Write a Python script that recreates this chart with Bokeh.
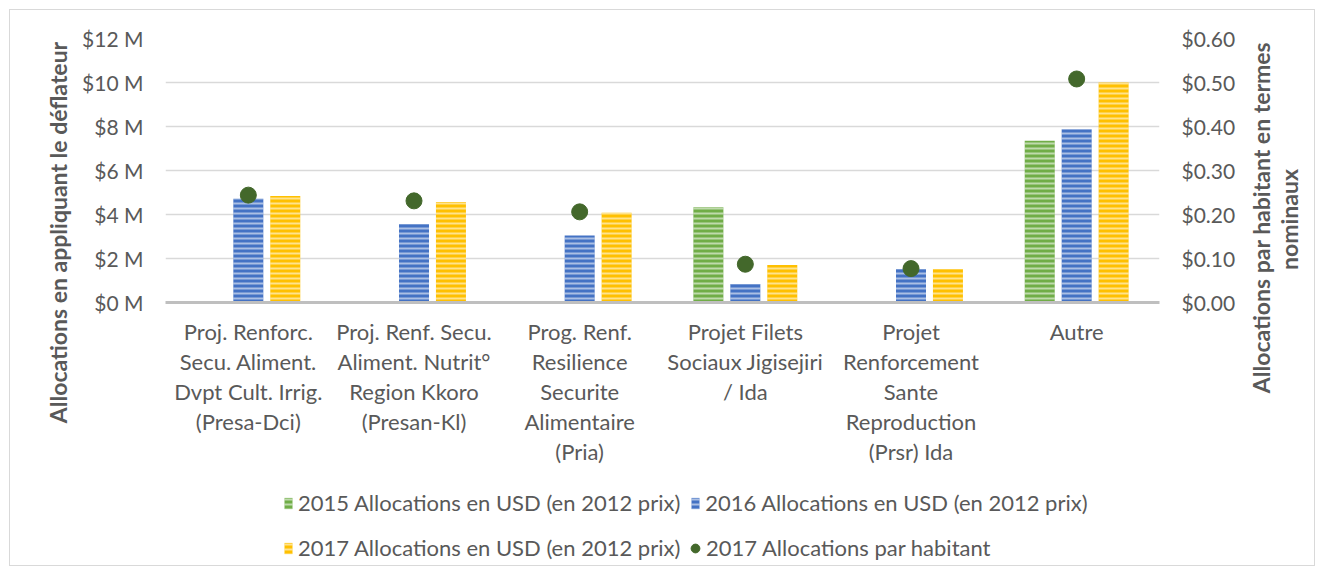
from math import pi
from bokeh.plotting import figure
from bokeh.layouts import row, column
from bokeh.models import (Range1d, LinearAxis, FixedTicker, PrintfTickFormatter,
                          ColumnDataSource, Legend, LegendItem, Label)
from bokeh.transform import dodge
from bokeh.embed import file_html
from bokeh.resources import INLINE

# ---------------- data ----------------
categories = [
    "Proj. Renforc.\nSecu. Aliment.\nDvpt Cult. Irrig.\n(Presa-Dci)",
    "Proj. Renf. Secu.\nAliment. Nutrit°\nRegion Kkoro\n(Presan-Kl)",
    "Prog. Renf.\nResilience\nSecurite\nAlimentaire\n(Pria)",
    "Projet Filets\nSociaux Jigisejiri\n/ Ida",
    "Projet\nRenforcement\nSante\nReproduction\n(Prsr) Ida",
    "Autre",
]
alloc_2015 = [0, 0, 0, 4.33, 0, 7.35]          # millions USD (2012 prices)
alloc_2016 = [4.72, 3.57, 3.05, 0.84, 1.52, 7.87]
alloc_2017 = [4.84, 4.57, 4.08, 1.70, 1.52, 10.0]
per_capita_2017 = [0.244, 0.231, 0.206, 0.087, 0.077, 0.508]  # USD per inhabitant

left_ticks = [0, 2, 4, 6, 8, 10, 12]
right_ticks = [0.0, 0.1, 0.2, 0.3, 0.4, 0.5, 0.6]

series_names = [
    "2015 Allocations en USD (en 2012 prix)",
    "2016 Allocations en USD (en 2012 prix)",
    "2017 Allocations en USD (en 2012 prix)",
    "2017 Allocations par habitant",
]
left_title = "Allocations en appliquant le déflateur"
right_title_lines = ["Allocations par habitant en termes", "nominaux"]

# ---------------- style ----------------
GREEN, BLUE, YELLOW, DOT = "#70AD47", "#4472C4", "#FFC000", "#43682B"
TXT = "#595959"
FONT = "Lato"
FS_TICK = "21px"
FS = "22px"
FS_TITLE = "23px"
hatch = dict(hatch_pattern="horizontal_line", hatch_color="white", hatch_alpha=0.55,
             hatch_scale=5, hatch_weight=2, line_color=None)

TOP_H = 475      # height of the chart row
LEG_H = 100      # height of the legend strip
LT_W, RT_W = 75, 85
MAIN_W = 1324 - LT_W - RT_W


def transparent(f):
    f.border_fill_color = None
    f.background_fill_color = None
    f.outline_line_color = None


def blank_fig(w, h):
    """A figure whose frame is the whole canvas, ranges in pixels (y downwards)."""
    f = figure(width=w, height=h, x_range=Range1d(0, w), y_range=Range1d(h, 0),
               output_backend="svg", toolbar_location=None,
               x_axis_location=None, y_axis_location=None, min_border=0)
    transparent(f)
    f.xgrid.visible = False
    f.ygrid.visible = False
    try:
        f.frame_align = False
    except Exception:
        pass
    return f


# ---------------- main chart ----------------
n = len(categories)
xpos = [i + 0.5 for i in range(n)]           # category slot centres

p = figure(x_range=Range1d(0, n), y_range=Range1d(0, 12),
           width=MAIN_W, height=TOP_H, output_backend="svg", toolbar_location=None,
           min_border_left=90, min_border_right=80, min_border_top=38, min_border_bottom=173)
p.extra_y_ranges = {"pc": Range1d(0, 0.6)}
transparent(p)

src = ColumnDataSource(dict(x=xpos, a15=alloc_2015, a16=alloc_2016,
                            a17=alloc_2017, pc=per_capita_2017))
bw = 0.181
off = 0.223
p.vbar(x=dodge("x", -off), top="a15", width=bw, source=src, fill_color=GREEN, **hatch)
p.vbar(x="x", top="a16", width=bw, source=src, fill_color=BLUE, **hatch)
p.vbar(x=dodge("x", off), top="a17", width=bw, source=src, fill_color=YELLOW, **hatch)
p.scatter(x="x", y="pc", y_range_name="pc", source=src, size=16,
          fill_color=DOT, line_color=DOT)


def plain(ax):
    ax.axis_line_color = None
    ax.major_tick_line_color = None
    ax.minor_tick_line_color = None
    ax.major_tick_out = 0
    ax.major_tick_in = 0
    ax.minor_tick_out = 0


ly = p.yaxis[0]
ly.ticker = FixedTicker(ticks=left_ticks)
ly.formatter = PrintfTickFormatter(format="$%d M")
ry = LinearAxis(y_range_name="pc", ticker=FixedTicker(ticks=right_ticks),
                formatter=PrintfTickFormatter(format="$%.2f"))
p.add_layout(ry, "right")
for ax in (ly, ry):
    plain(ax)
    ax.major_label_standoff = 22
    ax.major_label_text_font = FONT
    ax.major_label_text_font_size = FS_TICK
    ax.major_label_text_color = TXT

# category labels: one stacked axis per text line
xa = p.xaxis[0]
lines = [c.split("\n") for c in categories]
nlines = max(len(l) for l in lines)
for k in range(nlines):
    ax = xa if k == 0 else LinearAxis()
    ax.ticker = FixedTicker(ticks=xpos)
    ax.major_label_overrides = {x: (l[k] if k < len(l) else " ") for x, l in zip(xpos, lines)}
    plain(ax)
    ax.major_label_standoff = 15 if k == 0 else 0
    ax.major_label_text_font = FONT
    ax.major_label_text_font_size = FS
    ax.major_label_text_color = TXT
    if k == 0:
        ax.axis_line_color = "#bfbfbf"
        ax.axis_line_width = 3
    else:
        p.add_layout(ax, "below")

p.xgrid.grid_line_color = None
p.ygrid.ticker = FixedTicker(ticks=left_ticks)
p.ygrid.grid_line_color = "#d9d9d9"
p.ygrid.grid_line_width = 1.5

# ---------------- axis titles ----------------
tstyle = dict(angle=pi / 2, text_align="center", text_baseline="middle",
              text_font=FONT, text_font_size=FS_TITLE, text_font_style="bold",
              text_color=TXT)
lt = blank_fig(LT_W, TOP_H)
lt.add_layout(Label(x=57, y=232, text=left_title, **tstyle))
rt = blank_fig(RT_W, TOP_H)
rt.add_layout(Label(x=21, y=217, text=right_title_lines[0], **tstyle))
rt.add_layout(Label(x=49, y=219, text=right_title_lines[1], **tstyle))

# ---------------- legend strip ----------------
lf = blank_fig(1324, LEG_H)
# legend swatches only: the single sample point lies outside the strip's range
swatch = ColumnDataSource(dict(x=[-100], top=[0]))
g15 = lf.vbar(x="x", top="top", width=1, source=swatch, fill_color=GREEN, **hatch)
g16 = lf.vbar(x="x", top="top", width=1, source=swatch, fill_color=BLUE, **hatch)
g17 = lf.vbar(x="x", top="top", width=1, source=swatch, fill_color=YELLOW, **hatch)
gpc = lf.scatter(x="x", y="top", source=swatch, size=16, fill_color=DOT, line_color=DOT)

lstyle = dict(orientation="horizontal", border_line_color=None, background_fill_alpha=0,
              padding=0, margin=0, spacing=10, glyph_width=10, glyph_height=14,
              label_standoff=5, label_height=24, label_text_font=FONT,
              label_text_font_size=FS, label_text_color=TXT)
lf.add_layout(Legend(items=[LegendItem(label=series_names[0], renderers=[g15]),
                            LegendItem(label=series_names[1], renderers=[g16])],
                     location=(283, 59), **lstyle))
lf.add_layout(Legend(items=[LegendItem(label=series_names[2], renderers=[g17])],
                     location=(283, 14), **lstyle))
dot_style = dict(lstyle, glyph_width=22, glyph_height=22, label_standoff=0)
lf.add_layout(Legend(items=[LegendItem(label=series_names[3], renderers=[gpc])],
                     location=(684, 14), **dot_style))

page = column(row(lt, p, rt), lf)
page.styles = {"outline": "1px solid #d9d9d9", "outline-offset": "-10px",
               "background-color": "white"}

open("out.html", "w").write(file_html(page, INLINE))
